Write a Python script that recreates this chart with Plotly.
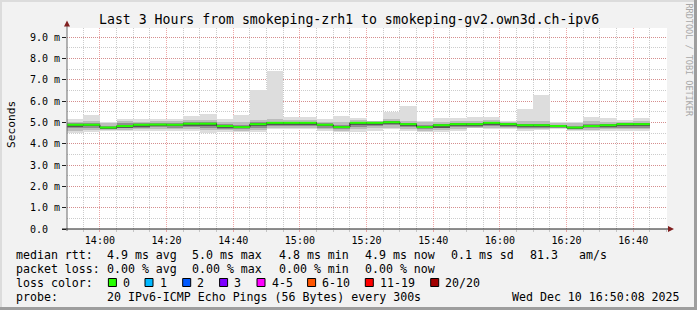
import plotly.graph_objects as go
import pandas as pd

W, H = 697, 310
L, R, T, B = 67, 30, 28, 81
PW, PH = W - L - R, H - T - B


def px(x):
    return (x - L) / PW


def py(y):
    return (H - B - y) / PH


FONT = "DejaVu Sans Mono"

# ---------------- data (ms) ----------------
step_start = pd.date_range("2025-12-10 13:50", periods=35, freq="5min")
step_end = pd.Timestamp("2025-12-10 16:45")

median = [4.89, 4.89, 4.76, 4.83, 4.89, 4.90, 4.89, 4.94, 4.94, 4.83,
          4.78, 4.92, 4.98, 4.98, 4.98, 4.89, 4.78, 4.98, 4.98, 5.01,
          4.92, 4.78, 4.87, 4.92, 4.92, 4.98, 4.92, 4.87, 4.87, 4.83,
          4.76, 4.83, 4.87, 4.92, 4.92]
ping_max = [5.15, 5.34, 5.04, 5.18, 5.14, 5.17, 5.18, 5.28, 5.39, 5.14,
            5.33, 6.50, 7.40, 5.26, 5.26, 5.15, 5.28, 5.23, 5.09, 5.48,
            5.76, 5.08, 5.20, 5.20, 5.25, 5.25, 5.06, 5.61, 6.31, 5.00,
            5.04, 5.25, 5.20, 5.12, 5.20]
ping_min = [4.51, 4.54, 4.62, 4.59, 4.62, 4.62, 4.59, 4.62, 4.51, 4.54,
            4.54, 4.54, 4.67, 4.67, 4.67, 4.62, 4.54, 4.54, 4.62, 4.67,
            4.59, 4.54, 4.54, 4.59, 4.72, 4.67, 4.70, 4.62, 4.64, 4.70,
            4.59, 4.59, 4.62, 4.59, 4.59]
band2_hi = [5.03, 5.06, 4.98, 5.08, 5.04, 5.06, 5.05, 5.10, 5.10, 5.02,
            5.02, 5.12, 5.18, 5.12, 5.10, 5.04, 5.00, 5.10, 5.06, 5.14,
            5.08, 5.00, 5.04, 5.06, 5.08, 5.10, 5.02, 5.06, 5.06, 4.96,
            4.98, 5.06, 5.04, 5.04, 5.06]
band2_lo = [4.62, 4.65, 4.66, 4.66, 4.68, 4.70, 4.67, 4.70, 4.66, 4.64,
            4.62, 4.66, 4.74, 4.74, 4.74, 4.68, 4.62, 4.70, 4.72, 4.76,
            4.68, 4.62, 4.64, 4.68, 4.74, 4.74, 4.74, 4.68, 4.68, 4.72,
            4.64, 4.66, 4.68, 4.68, 4.68]
band3_hi = [4.95, 4.96, 4.85, 4.95, 4.96, 4.98, 4.96, 5.00, 5.00, 4.92,
            4.88, 5.00, 5.04, 5.04, 5.04, 4.96, 4.88, 5.04, 5.02, 5.06,
            4.98, 4.88, 4.94, 4.98, 4.98, 5.04, 4.97, 4.94, 4.94, 4.90,
            4.84, 4.94, 4.94, 4.98, 4.98]
band3_lo = [4.72, 4.74, 4.70, 4.72, 4.75, 4.78, 4.74, 4.78, 4.76, 4.70,
            4.68, 4.76, 4.84, 4.84, 4.84, 4.76, 4.68, 4.80, 4.82, 4.86,
            4.78, 4.68, 4.72, 4.78, 4.80, 4.84, 4.80, 4.74, 4.74, 4.76,
            4.68, 4.72, 4.74, 4.76, 4.76]
band4_hi = [4.90, 4.91, 4.79, 4.88, 4.91, 4.93, 4.91, 4.96, 4.96, 4.86,
            4.82, 4.95, 5.00, 5.00, 5.00, 4.92, 4.82, 5.00, 5.00, 5.03,
            4.94, 4.82, 4.89, 4.94, 4.94, 5.00, 4.94, 4.89, 4.89, 4.86,
            4.79, 4.88, 4.90, 4.94, 4.94]
band4_lo = [4.80, 4.81, 4.72, 4.76, 4.80, 4.84, 4.81, 4.85, 4.84, 4.76,
            4.72, 4.84, 4.90, 4.90, 4.90, 4.82, 4.72, 4.88, 4.90, 4.94,
            4.86, 4.72, 4.76, 4.84, 4.86, 4.90, 4.86, 4.78, 4.78, 4.79,
            4.71, 4.77, 4.80, 4.84, 4.84]

y_tickvals = [0, 1, 2, 3, 4, 5, 6, 7, 8, 9]
y_ticktext = ["0.0\u00a0\u00a0", "1.0 m", "2.0 m", "3.0 m", "4.0 m", "5.0 m",
              "6.0 m", "7.0 m", "8.0 m", "9.0 m"]

title_text = "Last 3 Hours from smokeping-zrh1 to smokeping-gv2.own3d.ch-ipv6"
rtt_labels = ["median rtt:", "4.9 ms avg", "5.0 ms max", "4.8 ms min",
              "4.9 ms now", "0.1 ms sd", "81.3", "am/s"]
loss_labels = ["packet loss:", "0.00 % avg", "0.00 % max", "0.00 % min",
               "0.00 % now"]
loss_color_names = ["0", "1", "2", "3", "4-5", "6-10", "11-19", "20/20"]
loss_color_values = ["#26ff00", "#00b8ff", "#0059ff", "#7e00ff", "#ff00ff",
                     "#ff5500", "#ff0000", "#a10000"]
probe_text = "20 IPv6-ICMP Echo Pings (56 Bytes) every 300s"
stamp_text = "Wed Dec 10 16:50:08 2025"

# ---------------- figure ----------------
fig = go.Figure()

bands = [
    (ping_min, ping_max, "#dddddd"),
    (band2_lo, band2_hi, "#bcbcbc"),
    (band3_lo, band3_hi, "#8e8e8e"),
    (band4_lo, band4_hi, "#565656"),
]
for lo, hi, col in bands:
    fig.add_trace(go.Bar(
        x=step_start, y=[h - l for h, l in zip(hi, lo)], base=lo,
        width=300000, offset=0, marker=dict(color=col, line=dict(width=0)),
        hoverinfo="skip", showlegend=False))

# dark median line (step)
fig.add_trace(go.Scatter(
    x=list(step_start) + [step_end], y=median + [median[-1]],
    mode="lines", line=dict(color="#202020", width=1, shape="hv"),
    hoverinfo="skip", showlegend=False))

# green loss-coloured median segments
gx, gy = [], []
ends = list(step_start[1:]) + [step_end]
for s, e, m in zip(step_start, ends, median):
    gx += [s, e, None]
    gy += [m, m, None]
fig.add_trace(go.Scatter(
    x=gx, y=gy, mode="lines", line=dict(color="#26ff00", width=2),
    hoverinfo="skip", showlegend=False))

MAJ = "rgba(222,79,79,0.50)"
MIN = "rgba(143,143,143,0.45)"

fig.update_layout(
    width=W, height=H,
    margin=dict(l=L, r=R, t=T, b=B, pad=0),
    paper_bgcolor="#f2f2f2", plot_bgcolor="#ffffff",
    barmode="overlay", bargap=0,
    showlegend=False,
    font=dict(family=FONT, size=10, color="#000000"),
    xaxis=dict(
        type="date",
        range=["2025-12-10 13:50:08", "2025-12-10 16:50:08"],
        tickmode="linear", tick0="2025-12-10 14:00", dtick=1200000,
        tickformat="%H:%M",
        showgrid=True, gridcolor=MAJ, griddash="1px,1px", gridwidth=1,
        ticks="outside", ticklen=2, tickcolor=MAJ,
        tickfont=dict(family=FONT, size=10, color="#000000"),
        minor=dict(tick0="2025-12-10 14:00", dtick=300000, showgrid=True,
                   gridcolor=MIN, griddash="1px,1px", gridwidth=1,
                   ticks="outside", ticklen=2, tickcolor=MIN),
        showline=False, zeroline=False, fixedrange=True,
    ),
    yaxis=dict(
        range=[0, 9.43],
        tickmode="array", tickvals=y_tickvals, ticktext=y_ticktext,
        showgrid=True, gridcolor=MAJ, griddash="1px,1px", gridwidth=1,
        ticks="outside", ticklen=4, tickcolor="#1f1f1f",
        tickfont=dict(family=FONT, size=10, color="#000000"),
        minor=dict(dtick=0.5, tick0=0, showgrid=True, gridcolor=MIN,
                   griddash="1px,1px", gridwidth=1),
        showline=False, zeroline=False, fixedrange=True,
    ),
)

shapes = []
# axes lines
shapes.append(dict(type="line", xref="paper", yref="paper",
                   x0=px(67), x1=px(67), y0=py(231), y1=py(25),
                   line=dict(color="#6a6a6a", width=1)))
shapes.append(dict(type="line", xref="paper", yref="paper",
                   x0=px(62), x1=px(669), y0=py(229), y1=py(229),
                   line=dict(color="#1f1f1f", width=1)))
# arrows
shapes.append(dict(type="path", xref="paper", yref="paper",
                   path=f"M {px(67)},{py(20.5)} L {px(64)},{py(26.5)} L {px(70)},{py(26.5)} Z",
                   fillcolor="#801f1f", line=dict(width=0)))
shapes.append(dict(type="path", xref="paper", yref="paper",
                   path=f"M {px(674)},{py(229)} L {px(668)},{py(226)} L {px(668)},{py(232)} Z",
                   fillcolor="#801f1f", line=dict(width=0)))
# 3D frame
shapes.append(dict(type="rect", xref="paper", yref="paper",
                   x0=px(0), x1=px(697), y0=py(0), y1=py(2),
                   fillcolor="#dcdcdc", line=dict(width=0)))
shapes.append(dict(type="rect", xref="paper", yref="paper",
                   x0=px(0), x1=px(2), y0=py(0), y1=py(310),
                   fillcolor="#dcdcdc", line=dict(width=0)))
shapes.append(dict(type="rect", xref="paper", yref="paper",
                   x0=px(694), x1=px(697), y0=py(0), y1=py(310),
                   fillcolor="#9e9e9e", line=dict(width=0)))
shapes.append(dict(type="rect", xref="paper", yref="paper",
                   x0=px(0), x1=px(697), y0=py(307), y1=py(310),
                   fillcolor="#9e9e9e", line=dict(width=0)))

annotations = []


def txt(text, x, y, size=11.6, anchor="left", color="#000000", angle=0):
    annotations.append(dict(
        text=text, x=px(x), y=py(y), xref="paper", yref="paper",
        xanchor=anchor, yanchor="middle", showarrow=False,
        borderpad=0, borderwidth=0, textangle=angle,
        font=dict(family=FONT, size=size, color=color)))


txt(title_text, 348.5, 20, size=13.2, anchor="center")
txt("Seconds", 11, 125, size=11.2, anchor="center", angle=-90)
txt("RRDTOOL / TOBI OETIKER", 688.5, 60, size=8.5, anchor="center",
    color="#a8a8a8", angle=90)

rtt_x = [16, 107, 192.4, 279, 365, 451, 530, 579]
for t, x in zip(rtt_labels, rtt_x):
    txt(t, x, 254.5)
loss_x = [16, 107, 192.4, 279, 365]
for t, x in zip(loss_labels, loss_x):
    txt(t, x, 268.5)

txt("loss color:", 16, 282.5)
box_x = [108.4, 145, 182.7, 219.6, 257, 307.6, 365.3, 430.7]
for name, col, bx in zip(loss_color_names, loss_color_values, box_x):
    shapes.append(dict(type="rect", xref="paper", yref="paper",
                       x0=px(bx), x1=px(bx + 8), y0=py(278.5), y1=py(286.5),
                       fillcolor=col, line=dict(color="#000000", width=1)))
    txt(name, bx + 14.5, 282.5)

txt("probe:", 16, 296.5)
txt(probe_text, 107, 296.5)
txt(stamp_text, 680, 296.5, anchor="right")

fig.update_layout(shapes=shapes, annotations=annotations)

fig.write_html("out.html")
